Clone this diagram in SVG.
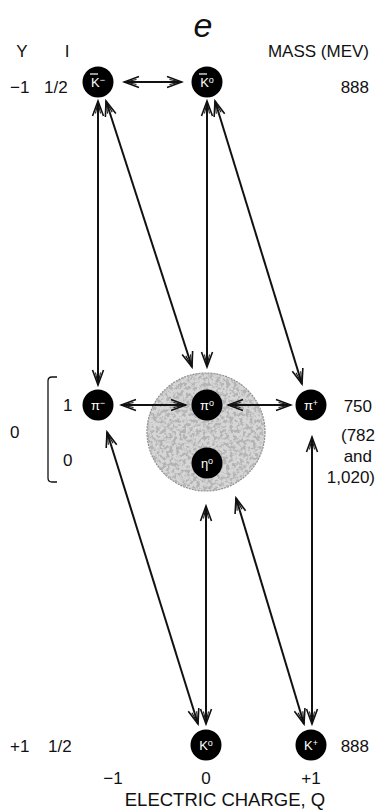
<svg xmlns="http://www.w3.org/2000/svg" width="383" height="811" viewBox="0 0 383 811">
<style>
.n{fill:#000}
.nl{fill:#fff;font-family:"Liberation Sans",Arial,sans-serif;font-size:13px;text-anchor:middle}
.sp{font-size:9px}
.t{font-family:"Liberation Sans",Arial,sans-serif;font-size:17px;fill:#111}
.m{text-anchor:middle}
.e{text-anchor:end}
.c{stroke:#111;stroke-width:2;fill:none;marker-start:url(#ah);marker-end:url(#ah)}
.bar{stroke:#fff;stroke-width:1.2}
</style>
<defs>
<marker id="ah" viewBox="-17 -8 19 16" refX="0" refY="0" markerWidth="19" markerHeight="16" orient="auto-start-reverse" markerUnits="userSpaceOnUse">
<path d="M-15,-5.5 L0,0 L-15,5.5" fill="none" stroke="#111" stroke-width="1.6"/>
<path d="M-12.5,-2.5 L-1,0 L-12.5,2.5" fill="none" stroke="#111" stroke-width="1.1"/>
</marker>
<filter id="mottle" x="0" y="0" width="1" height="1">
<feTurbulence type="fractalNoise" baseFrequency="0.3" numOctaves="3" seed="5" result="nz"/>
<feColorMatrix in="nz" type="matrix" values="0 0 0 0 0.45  0 0 0 0 0.45  0 0 0 0 0.45  5 0 0 0 -2.2" result="dots"/>
<feComposite in="dots" in2="SourceGraphic" operator="in"/>
</filter>
</defs>

<g id="shade">
<circle cx="206" cy="432" r="59" fill="#d6d6d6" stroke="#8a8a8a" stroke-width="1.2" stroke-dasharray="2 1"/>
<circle cx="206" cy="432" r="59" fill="#888" filter="url(#mottle)"/>
</g>

<g id="connectors">
<line class="c" x1="124" y1="82" x2="182" y2="82"/>
<line class="c" x1="98" y1="101" x2="98" y2="385"/>
<line class="c" x1="106" y1="101" x2="192" y2="367"/>
<line class="c" x1="207" y1="101" x2="207" y2="367"/>
<line class="c" x1="215" y1="101" x2="302" y2="384"/>
<line class="c" x1="121" y1="405" x2="186" y2="405"/>
<line class="c" x1="228" y1="405" x2="291" y2="405"/>
<line class="c" x1="107" y1="432" x2="198" y2="724"/>
<line class="c" x1="206" y1="506" x2="206" y2="724"/>
<line class="c" x1="236" y1="498" x2="304" y2="724"/>
<line class="c" x1="312" y1="437" x2="312" y2="724"/>
</g>

<g id="Kbar-minus"><circle class="n" cx="98" cy="82" r="15.5"/><line class="bar" x1="90" y1="74" x2="98" y2="74"/><text class="nl" x="98" y="87">K<tspan class="sp" dy="-4">−</tspan></text></g>
<g id="Kbar-zero"><circle class="n" cx="207" cy="82" r="15.5"/><line class="bar" x1="199" y1="74" x2="207" y2="74"/><text class="nl" x="207" y="87">K<tspan class="sp" dy="-4">o</tspan></text></g>
<g id="pi-minus"><circle class="n" cx="98" cy="405" r="15.5"/><text class="nl" x="98" y="410">π<tspan class="sp" dy="-4">−</tspan></text></g>
<g id="pi-zero"><circle class="n" cx="207" cy="405" r="15.5"/><text class="nl" x="207" y="410">π<tspan class="sp" dy="-4">o</tspan></text></g>
<g id="pi-plus"><circle class="n" cx="311" cy="405" r="15.5"/><text class="nl" x="311" y="410">π<tspan class="sp" dy="-4">+</tspan></text></g>
<g id="eta-zero"><circle class="n" cx="207" cy="463" r="15.5"/><text class="nl" x="207" y="468">η<tspan class="sp" dy="-4">o</tspan></text></g>
<g id="K-zero"><circle class="n" cx="206" cy="745" r="15.5"/><text class="nl" x="206" y="750">K<tspan class="sp" dy="-4">o</tspan></text></g>
<g id="K-plus"><circle class="n" cx="311" cy="745" r="15.5"/><text class="nl" x="311" y="750">K<tspan class="sp" dy="-4">+</tspan></text></g>

<g id="labels">
<text class="t m" x="203" y="37" style="font-size:34px;font-style:italic;font-weight:300">e</text>
<text class="t m" x="22" y="57">Y</text>
<text class="t m" x="67" y="57">I</text>
<text class="t e" x="369" y="57">MASS (MEV)</text>
<text class="t" x="10" y="93">−1</text>
<text class="t" x="44" y="93">1/2</text>
<text class="t e" x="369" y="93">888</text>
<text class="t" x="10" y="438">0</text>
<path d="M57,377 L52,377 Q48,377 48,381 L48,478 Q48,482 52,482 L57,482" fill="none" stroke="#111" stroke-width="1.3"/>
<text class="t" x="63" y="411">1</text>
<text class="t" x="63" y="466">0</text>
<text class="t e" x="372" y="412">750</text>
<text class="t e" x="375" y="441">(782</text>
<text class="t e" x="372" y="462">and</text>
<text class="t e" x="375" y="483">1,020)</text>
<text class="t" x="10" y="752">+1</text>
<text class="t" x="48" y="752">1/2</text>
<text class="t e" x="369" y="752">888</text>
<text class="t m" x="113" y="784">−1</text>
<text class="t m" x="206" y="784">0</text>
<text class="t m" x="311" y="784">+1</text>
<text class="t m" x="225" y="806" style="font-size:18.5px">ELECTRIC CHARGE, Q</text>
</g>
</svg>
